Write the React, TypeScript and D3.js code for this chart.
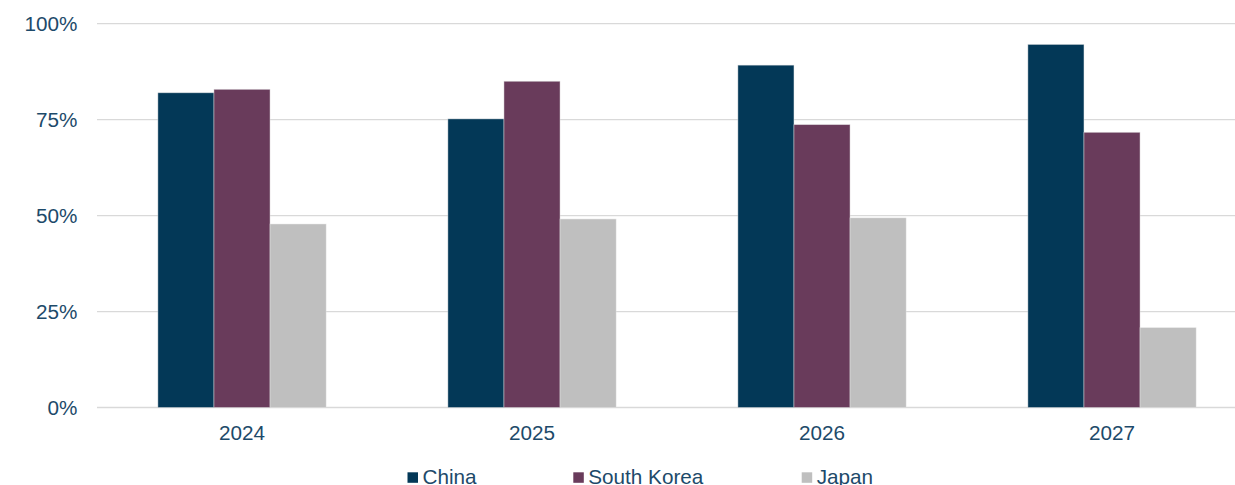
import React from "react";
import * as d3 from "d3";

const years = ["2024", "2025", "2026", "2027"];
const seriesNames = ["China", "South Korea", "Japan"];
const china = [0.82, 0.752, 0.892, 0.946];
const southKorea = [0.829, 0.85, 0.737, 0.717];
const japan = [0.478, 0.491, 0.494, 0.208];
const yTicks = [0, 0.25, 0.5, 0.75, 1];
const colors = ["#033857", "#693B5B", "#BFBFBF"];

const W = 1235;
const H = 485;
const TEXT = "#1D4A6A";
const FONT = "'Liberation Sans', Arial, sans-serif";
const FS = 20.7;

export default function App() {
  const values = [china, southKorea, japan];
  const x = d3.scaleBand<string>().domain(years).range([97, 1257]).paddingInner(0.42).paddingOuter(0.21);
  const xs = d3.scaleBand<string>().domain(seriesNames).range([0, x.bandwidth()]).padding(0);
  const y = d3.scaleLinear().domain([0, 1]).range([407.5, 23.7]);
  const fmt = d3.format(".0%");

  const legendPos = [407.5, 573.3, 801.7];

  return (
    <svg
      width={W}
      height={H}
      style={{ position: "fixed", left: 0, top: 0, background: "#fff" }}
      fontFamily={FONT}
    >
      <rect x={0} y={0} width={W} height={H} fill="#fff" />
      {yTicks.map((t) => (
        <g key={t}>
          <line x1={97} x2={W} y1={y(t)} y2={y(t)} stroke="#D9D9D9" strokeWidth={1.3} />
          <text x={77.5} y={y(t)} dy="0.36em" textAnchor="end" fontSize={FS} fill={TEXT}>
            {fmt(t)}
          </text>
        </g>
      ))}
      {years.map((yr, i) => (
        <g key={yr} transform={`translate(${x(yr)},0)`}>
          {seriesNames.map((s, j) => (
            <rect
              key={s}
              x={xs(s)}
              y={y(values[j][i])}
              width={xs.bandwidth()}
              height={y(0) - y(values[j][i])}
              fill={colors[j]}
              stroke="#E4E4E4"
              strokeOpacity={0.6}
              strokeWidth={0.75}
            />
          ))}
          <text
            x={x.bandwidth() / 2}
            y={440}
            textAnchor="middle"
            fontSize={FS}
            fill={TEXT}
          >
            {yr}
          </text>
        </g>
      ))}
      {seriesNames.map((s, j) => (
        <g key={s}>
          <rect x={legendPos[j]} y={472.3} width={10.5} height={10.5} fill={colors[j]} />
          <text x={legendPos[j] + 15} y={484} fontSize={FS} fill={TEXT}>
            {s}
          </text>
        </g>
      ))}
    </svg>
  );
}
